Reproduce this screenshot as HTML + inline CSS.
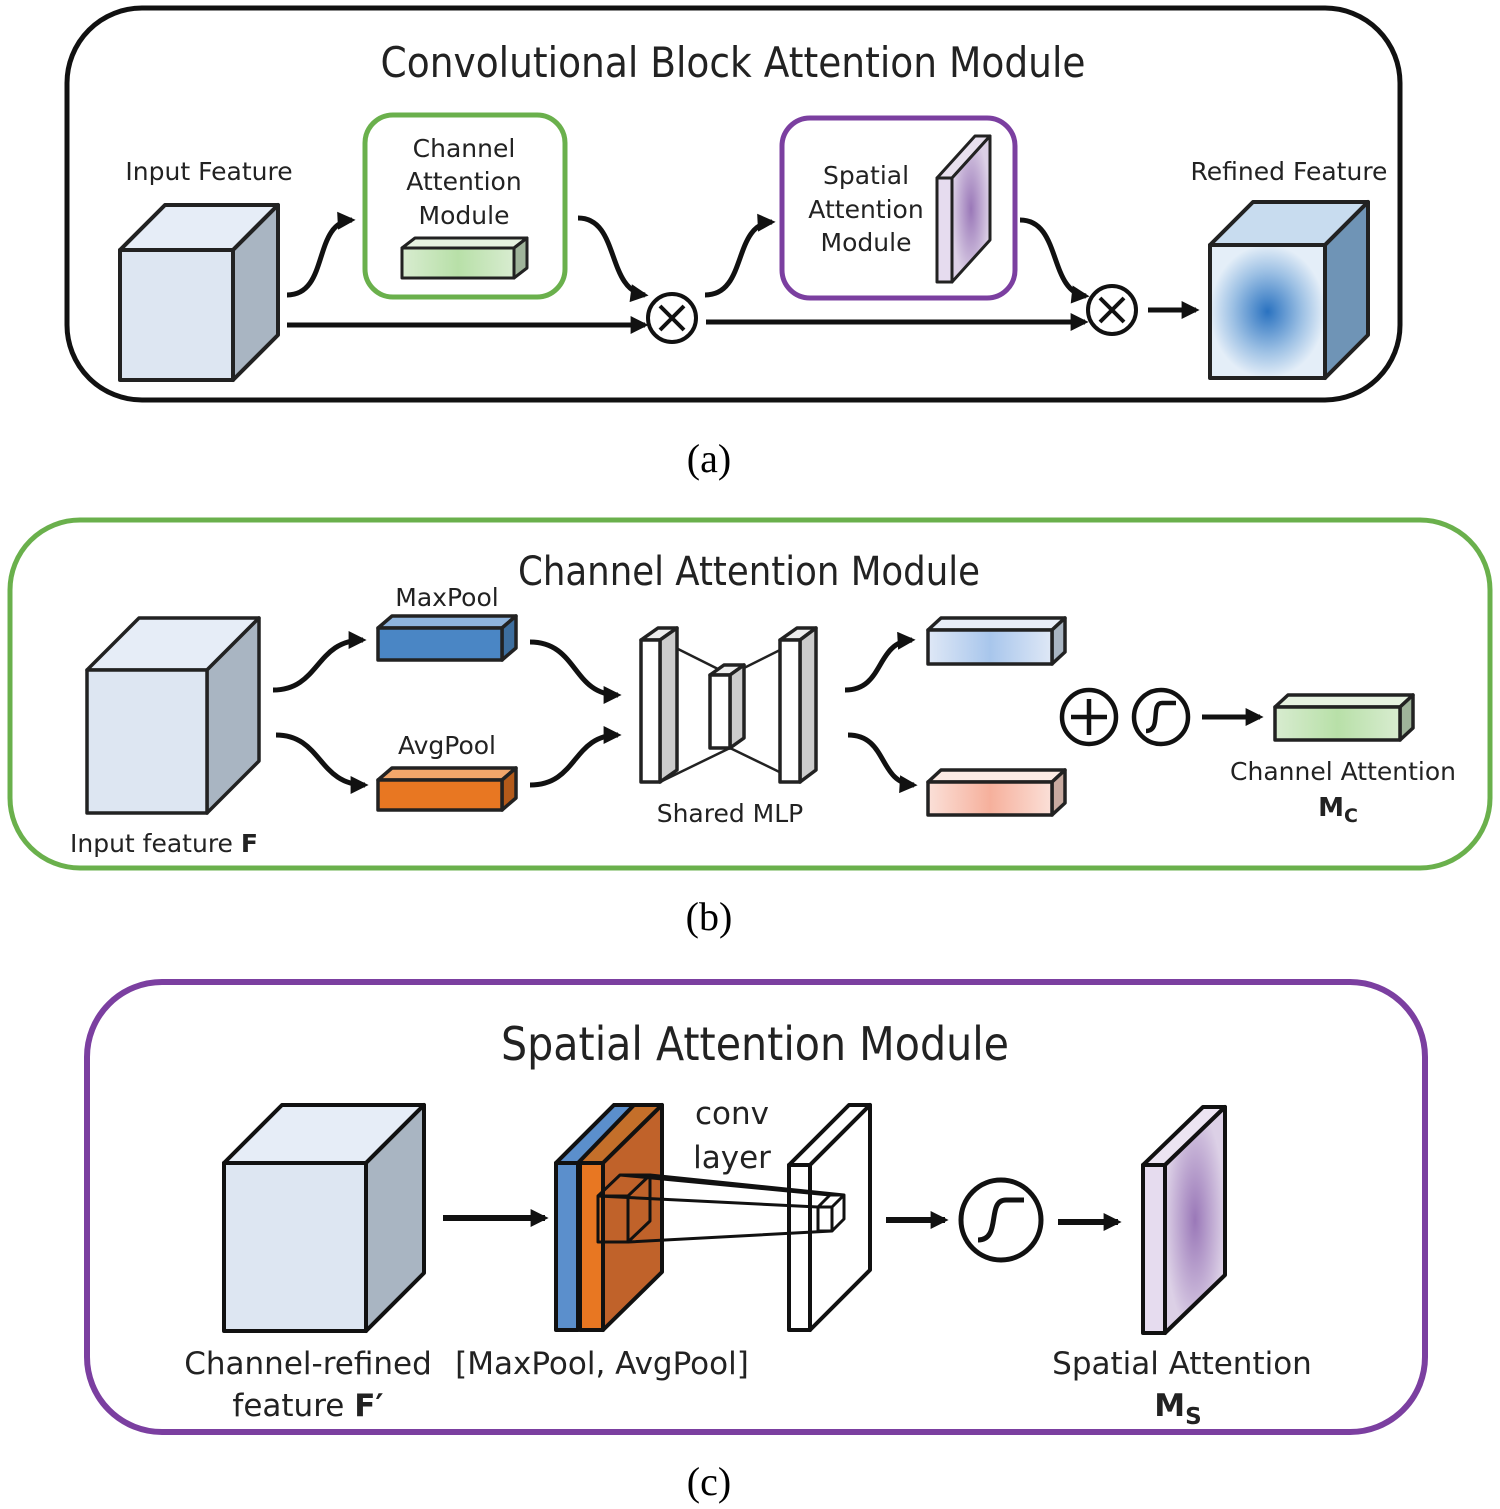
<!DOCTYPE html>
<html><head><meta charset="utf-8"><style>
html,body{margin:0;padding:0;background:#fff;}
svg{display:block;}
text{font-family:"DejaVu Sans","Liberation Sans",sans-serif;fill:#222;}
.cap{font-family:"Liberation Serif",serif;fill:#000;}
</style></head><body>
<svg width="1500" height="1509" viewBox="0 0 1500 1509" xmlns="http://www.w3.org/2000/svg">
<defs>
<marker id="a" viewBox="0 0 10 10" refX="8" refY="5" markerWidth="20" markerHeight="18" markerUnits="userSpaceOnUse" orient="auto"><path d="M0,0 L10,5 L0,10 z" fill="#111"/></marker>
<linearGradient id="gGreen" x1="0" x2="1"><stop offset="0" stop-color="#d8ecd0"/><stop offset="0.5" stop-color="#b8e0a8"/><stop offset="1" stop-color="#d8ecd0"/></linearGradient>
<linearGradient id="gBlueL" x1="0" x2="1"><stop offset="0" stop-color="#dfe8f6"/><stop offset="0.5" stop-color="#a8c6ec"/><stop offset="1" stop-color="#dfe8f6"/></linearGradient>
<linearGradient id="gPink" x1="0" x2="1"><stop offset="0" stop-color="#fbe0d8"/><stop offset="0.5" stop-color="#f6b09c"/><stop offset="1" stop-color="#fbe0d8"/></linearGradient>
<radialGradient id="gPur"><stop offset="0" stop-color="#9a78b8"/><stop offset="1" stop-color="#dcd0e6"/></radialGradient>
<radialGradient id="gRef"><stop offset="0" stop-color="#2a72c0"/><stop offset="0.6" stop-color="#9cc0e4"/><stop offset="1" stop-color="#e4eef8"/></radialGradient>
</defs>
<rect x="67" y="8" width="1333" height="392" rx="75" fill="none" stroke="#111" stroke-width="5"/>
<text x="733" y="77" font-size="42" text-anchor="middle" textLength="705" lengthAdjust="spacingAndGlyphs">Convolutional Block Attention Module</text>
<text x="209" y="180" font-size="25" text-anchor="middle">Input Feature</text>
<text x="1289" y="180" font-size="25" text-anchor="middle">Refined Feature</text>
<g stroke="#222" stroke-width="4" stroke-linejoin="round">
<polygon points="120,250 165,205 278,205 233,250" fill="#e6edf7"/>
<polygon points="233,250 278,205 278,335 233,380" fill="#a9b5c2"/>
<rect x="120" y="250" width="113" height="130" fill="#dde6f2"/>
<polygon points="1210,245 1253,202 1368,202 1325,245" fill="#c8dcef"/>
<polygon points="1325,245 1368,202 1368,335 1325,378" fill="#6f94b6"/>
<rect x="1210" y="245" width="115" height="133" fill="url(#gRef)"/>
</g>
<rect x="365" y="115" width="200" height="182" rx="28" fill="none" stroke="#6ab04c" stroke-width="5"/>
<rect x="782" y="118" width="233" height="180" rx="28" fill="none" stroke="#7b3fa0" stroke-width="5"/>
<text x="464" y="157" font-size="25" text-anchor="middle">Channel</text>
<text x="464" y="190" font-size="25" text-anchor="middle">Attention</text>
<text x="464" y="224" font-size="25" text-anchor="middle">Module</text>
<text x="866" y="184" font-size="25" text-anchor="middle">Spatial</text>
<text x="866" y="218" font-size="25" text-anchor="middle">Attention</text>
<text x="866" y="251" font-size="25" text-anchor="middle">Module</text>
<g stroke="#222" stroke-width="3" stroke-linejoin="round">
<polygon points="402,248 415,238 527,238 514,248" fill="#e6f2e0"/>
<polygon points="514,248 527,238 527,268 514,278" fill="#9fb49a"/>
<rect x="402" y="248" width="112" height="30" fill="url(#gGreen)"/>
<polygon points="937,178 975,136 990,136 952,178" fill="#e8e0ee"/>
<polygon points="952,178 990,136 990,240 952,282" fill="url(#gPur)"/>
<rect x="937" y="178" width="15" height="104" fill="#e6dcef"/>
</g>
<g stroke="#111" stroke-width="5" fill="none" marker-end="url(#a)">
<path d="M287,295 C330,295 312,222 352,220"/>
<path d="M287,325 L645,325"/>
<path d="M578,218 C620,218 606,290 645,295"/>
<path d="M705,295 C748,295 732,224 772,222"/>
<path d="M706,322 L1085,322"/>
<path d="M1020,220 C1062,220 1048,292 1086,296"/>
<path d="M1148,310 L1196,310"/>
</g>
<g stroke="#111" stroke-width="4" fill="#fff">
<circle cx="672" cy="318" r="24"/>
<circle cx="1112" cy="310" r="24"/>
</g>
<g stroke="#111" stroke-width="4">
<path d="M660,306 L684,330 M684,306 L660,330"/>
<path d="M1100,298 L1124,322 M1124,298 L1100,322"/>
</g>
<text class="cap" x="709" y="472" font-size="40" text-anchor="middle">(a)</text>

<rect x="10" y="520" width="1480" height="348" rx="70" fill="none" stroke="#6ab04c" stroke-width="5"/>
<text x="749" y="585" font-size="40" text-anchor="middle" textLength="462" lengthAdjust="spacingAndGlyphs">Channel Attention Module</text>
<text x="447" y="606" font-size="25" text-anchor="middle">MaxPool</text>
<text x="447" y="754" font-size="25" text-anchor="middle">AvgPool</text>
<text x="730" y="822" font-size="25" text-anchor="middle">Shared MLP</text>
<text x="1343" y="780" font-size="25" text-anchor="middle">Channel Attention</text>
<text x="1338" y="816" font-size="26" text-anchor="middle" font-weight="bold">M<tspan font-size="19" dy="6">C</tspan></text>
<text x="70" y="852" font-size="25">Input feature <tspan font-weight="bold">F</tspan></text>
<g stroke="#222" stroke-width="3.5" stroke-linejoin="round">
<polygon points="87,670 139,618 259,618 207,670" fill="#e6edf7"/>
<polygon points="207,670 259,618 259,761 207,813" fill="#a9b5c2"/>
<rect x="87" y="670" width="120" height="143" fill="#dde6f2"/>
<polygon points="378,628 392,616 516,616 502,628" fill="#8fb4dd"/>
<polygon points="502,628 516,616 516,648 502,660" fill="#3d6e9e"/>
<rect x="378" y="628" width="124" height="32" fill="#4a86c5"/>
<polygon points="378,780 392,768 516,768 502,780" fill="#f2a66a"/>
<polygon points="502,780 516,768 516,798 502,810" fill="#b35a1a"/>
<rect x="378" y="780" width="124" height="30" fill="#e87722"/>
<polygon points="928,630 941,618 1065,618 1052,630" fill="#e8eef8"/>
<polygon points="1052,630 1065,618 1065,652 1052,664" fill="#a9b5c2"/>
<rect x="928" y="630" width="124" height="34" fill="url(#gBlueL)"/>
<polygon points="928,782 941,770 1065,770 1052,782" fill="#fcebe4"/>
<polygon points="1052,782 1065,770 1065,803 1052,815" fill="#c8aaa0"/>
<rect x="928" y="782" width="124" height="33" fill="url(#gPink)"/>
<polygon points="1275,707 1288,695 1413,695 1400,707" fill="#e6f2e0"/>
<polygon points="1400,707 1413,695 1413,728 1400,740" fill="#9fb49a"/>
<rect x="1275" y="707" width="125" height="33" fill="url(#gGreen)"/>
<g fill="none" stroke-width="2.5"><path d="M660,640 L730,675 M660,782 L730,748 M800,640 L730,675 M800,782 L730,748"/></g>
<polygon points="641,640 658,628 677,628 660,640" fill="#eee"/>
<polygon points="660,640 677,628 677,770 660,782" fill="#ccc"/>
<rect x="641" y="640" width="19" height="142" fill="#fff"/>
<polygon points="710,675 724,665 744,665 730,675" fill="#eee"/>
<polygon points="730,675 744,665 744,738 730,748" fill="#ccc"/>
<rect x="710" y="675" width="20" height="73" fill="#fff"/>
<polygon points="780,640 797,628 816,628 800,640" fill="#eee"/>
<polygon points="800,640 816,628 816,770 800,782" fill="#ccc"/>
<rect x="780" y="640" width="20" height="142" fill="#fff"/>
</g>
<g stroke="#111" stroke-width="5" fill="none" marker-end="url(#a)">
<path d="M273,690 C320,690 315,640 363,640"/>
<path d="M276,735 C322,735 318,785 365,785"/>
<path d="M530,642 C578,642 572,695 618,695"/>
<path d="M530,785 C578,785 572,735 618,735"/>
<path d="M845,690 C885,690 875,642 912,640"/>
<path d="M848,735 C888,735 878,783 914,785"/>
<path d="M1202,717 L1260,717"/>
</g>
<g stroke="#111" stroke-width="4.5" fill="none">
<circle cx="1089" cy="717" r="27"/>
<path d="M1071,717 L1107,717 M1089,699 L1089,735"/>
<circle cx="1161" cy="717" r="27"/>
<path d="M1146,731 C1162,731 1150,703 1162,703 C1168,703 1170,703 1176,703" />
</g>
<text class="cap" x="709" y="930" font-size="40" text-anchor="middle">(b)</text>

<rect x="87" y="982" width="1338" height="450" rx="75" fill="none" stroke="#7b3fa0" stroke-width="6"/>
<text x="755" y="1060" font-size="46" text-anchor="middle" textLength="508" lengthAdjust="spacingAndGlyphs">Spatial Attention Module</text>
<text x="732" y="1124" font-size="31" text-anchor="middle">conv</text>
<text x="732" y="1168" font-size="31" text-anchor="middle">layer</text>
<text x="308" y="1374" font-size="31" text-anchor="middle">Channel-refined</text>
<text x="308" y="1416" font-size="31" text-anchor="middle">feature <tspan font-weight="bold">F′</tspan></text>
<text x="602" y="1374" font-size="31" text-anchor="middle">[MaxPool, AvgPool]</text>
<text x="1182" y="1374" font-size="31" text-anchor="middle">Spatial Attention</text>
<text x="1178" y="1416" font-size="31" text-anchor="middle" font-weight="bold">M<tspan font-size="23" dy="8">S</tspan></text>
<g stroke="#111" stroke-width="4" stroke-linejoin="round">
<polygon points="224,1163 282,1105 424,1105 366,1163" fill="#e6edf7"/>
<polygon points="366,1163 424,1105 424,1273 366,1331" fill="#a9b5c2"/>
<rect x="224" y="1163" width="142" height="168" fill="#dde6f2"/>
<polygon points="556,1163 614,1105 662,1105 603,1163" fill="#c46f2a"/>
<polygon points="603,1163 662,1105 662,1272 603,1330" fill="#c0622a"/>
<rect x="556" y="1163" width="22" height="167" fill="#5b8fcc"/>
<rect x="580" y="1163" width="23" height="167" fill="#e87722"/>
<polygon points="556,1163 614,1105 634,1105 578,1163" fill="#5b8fcc"/>
<g fill="none" stroke-width="3">
<rect x="598" y="1196" width="30" height="46"/>
<path d="M598,1196 L620,1175 L650,1175 L628,1196 M628,1242 L650,1221 L650,1175"/>
</g>
<polygon points="789,1165 849,1105 870,1105 810,1165" fill="#fff"/>
<polygon points="810,1165 870,1105 870,1270 810,1330" fill="#fff"/>
<rect x="789" y="1165" width="21" height="165" fill="#fff"/>
<g fill="none" stroke-width="3">
<rect x="818" y="1207" width="14" height="24"/>
<path d="M818,1207 L830,1195 L844,1195 L832,1207 M832,1231 L844,1219 L844,1195"/>
<path d="M620,1175 L830,1195 M650,1175 L844,1195 M628,1242 L832,1231 M598,1196 L818,1207"/>
</g>
<polygon points="1143,1165 1203,1107 1225,1107 1165,1165" fill="#ece4f2"/>
<polygon points="1165,1165 1225,1107 1225,1275 1165,1333" fill="url(#gPur)"/>
<rect x="1143" y="1165" width="22" height="168" fill="#e6dcef"/>
</g>
<g stroke="#111" stroke-width="6" fill="none" marker-end="url(#a)">
<path d="M443,1218 L545,1218"/>
<path d="M886,1220 L945,1220"/>
<path d="M1058,1222 L1118,1222"/>
</g>
<g stroke="#111" stroke-width="5" fill="none">
<circle cx="1001" cy="1220" r="40"/>
<path d="M978,1240 C1002,1240 986,1200 1006,1200 C1014,1200 1018,1200 1024,1200"/>
</g>
<text class="cap" x="709" y="1495" font-size="40" text-anchor="middle">(c)</text>
</svg>
</body></html>
